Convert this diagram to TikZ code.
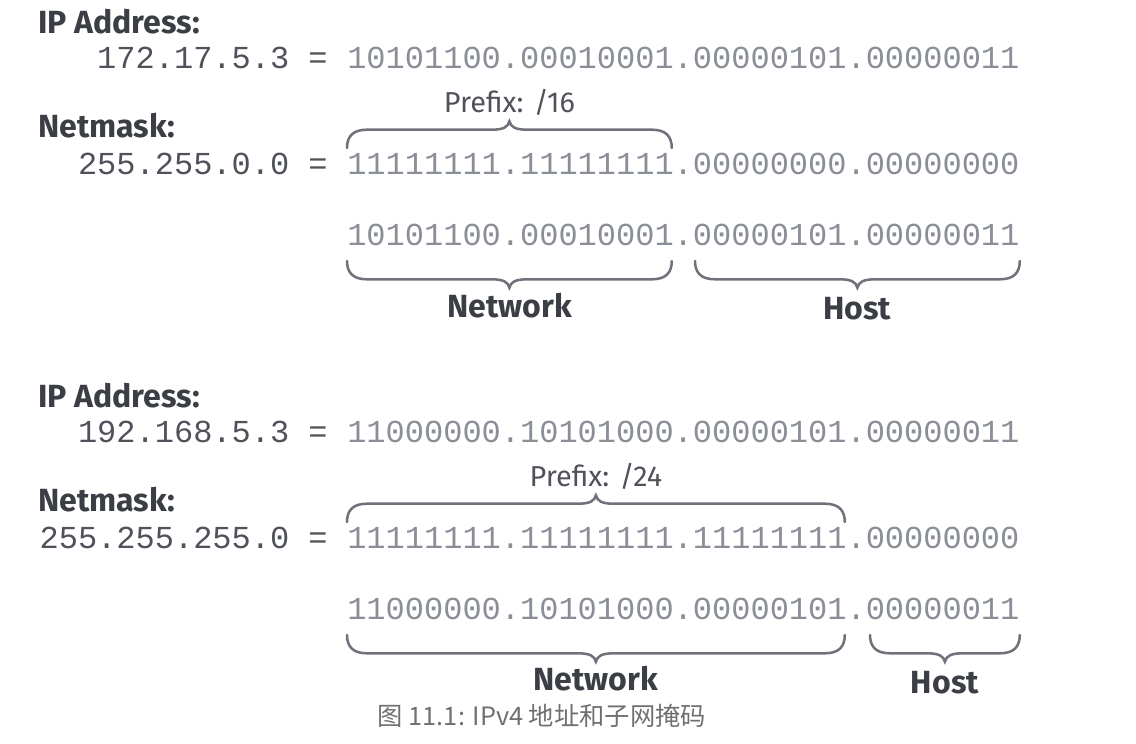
\documentclass[tikz,border=0pt]{standalone}
\usepackage{fontspec}
\setsansfont{Fira Sans}
\setmonofont{Liberation Mono}
\newfontfamily\cjk{Noto Sans CJK SC}
\usetikzlibrary{positioning,calc}
\definecolor{labelgray}{HTML}{3C3E45}
\definecolor{decgray}{HTML}{4F525A}
\definecolor{bitgray}{HTML}{8A8E97}
\definecolor{bracegray}{HTML}{6F727A}
\definecolor{capgray}{HTML}{707070}
\tikzset{
lbl/.style  = {font=\sffamily\bfseries\fontsize{22.8}{26}\selectfont, text=labelgray, anchor=base west, inner sep=0},
part/.style = {lbl, anchor=base},
dec/.style  = {font=\ttfamily\fontsize{22.76}{26}\selectfont, text=decgray, anchor=base east, inner sep=0},
bits/.style = {font=\ttfamily\fontsize{22.76}{26}\selectfont, text=bitgray, anchor=base west, inner sep=0},
pfx/.style  = {font=\sffamily\fontsize{20.5}{24}\selectfont, text=decgray, anchor=base, inner sep=0},
captxt/.style = {font=\cjk\fontsize{18}{22}\selectfont, text=capgray, anchor=base, inner sep=0},
brc/.style  = {draw=bracegray, line width=1.8pt, line cap=round},
curly/.style = {to path={let \p1=(\tikztostart), \p2=(\tikztotarget), \n1={0.5*(\x1+\x2)}, \n2={#1} in
  (\p1) .. controls (\x1,\y1+\n2*8pt) and (\x1+4pt,\y1+\n2*13pt) .. (\x1+14pt,\y1+\n2*13pt)
  -- (\n1-13pt,\y1+\n2*13pt) .. controls (\n1-4pt,\y1+\n2*13pt) and (\n1-1pt,\y1+\n2*15pt) .. (\n1,\y1+\n2*19pt)
  .. controls (\n1+1pt,\y1+\n2*15pt) and (\n1+4pt,\y1+\n2*13pt) .. (\n1+13pt,\y1+\n2*13pt)
  -- (\x2-14pt,\y1+\n2*13pt) .. controls (\x2-4pt,\y1+\n2*13pt) and (\x2,\y1+\n2*8pt) .. (\p2)}}
}

\begin{document}
\begin{tikzpicture}[x=0.025cm, y=-0.025cm]
  \useasboundingbox (0,0) rectangle (1136,743);

  % 172.17.5.3 /16
  \node [lbl]  (ipa)   at (38,33)   {IP Address:};
  \node [dec]  (deca)  at (328,68)  {172.17.5.3 =};
  \node [bits] (bitsa) at (347,68)  {10101100.00010001.00000101.00000011};
  \node [lbl]  (nma)   at (38,137)  {Netmask:};
  \node [dec]  (decma) at (328,174) {255.255.0.0 =};
  \node [bits] (maska) at (347,174) {11111111.11111111.00000000.00000000};
  \node [bits] (neta)  at (347,245) {10101100.00010001.00000101.00000011};

  \coordinate (pfxa1) at ($(maska.base west)+(0,-26)$);
  \coordinate (pfxa2) at ($(maska.base west)!17/35!(maska.base east)+(-2,-26)$);
  \coordinate (nwa1)  at ($(neta.base west)+(0,16)$);
  \coordinate (nwa2)  at ($(neta.base west)!17/35!(neta.base east)+(-2,16)$);
  \coordinate (hsa1)  at ($(neta.base west)!18/35!(neta.base east)+(2,16)$);
  \coordinate (hsa2)  at ($(neta.base east)+(0,16)$);

  \draw [brc] (pfxa1) to[curly=1] (pfxa2);
  \draw [brc] (nwa1) to[curly=-1] (nwa2);
  \draw [brc] (hsa1) to[curly=-1] (hsa2);
  \node [pfx]  (pfxlabela) at ($(pfxa1)!0.5!(pfxa2)+(0,-36)$) {Prefix: /16};
  \node [part] (nwlabela)  at ($(nwa1)!0.5!(nwa2)+(0,56)$)    {Network};
  \node [part] (hslabela)  at ($(hsa1)!0.5!(hsa2)+(0,58)$)    {Host};

  % 192.168.5.3 /24
  \node [lbl]  (ipb)   at (38,407)  {IP Address:};
  \node [dec]  (decb)  at (328,442) {192.168.5.3 =};
  \node [bits] (bitsb) at (347,442) {11000000.10101000.00000101.00000011};
  \node [lbl]  (nmb)   at (38,511)  {Netmask:};
  \node [dec]  (decmb) at (328,548) {255.255.255.0 =};
  \node [bits] (maskb) at (347,548) {11111111.11111111.11111111.00000000};
  \node [bits] (netb)  at (347,619) {11000000.10101000.00000101.00000011};

  \coordinate (pfxb1) at ($(maskb.base west)+(0,-26)$);
  \coordinate (pfxb2) at ($(maskb.base west)!26/35!(maskb.base east)+(-2,-26)$);
  \coordinate (nwb1)  at ($(netb.base west)+(0,16)$);
  \coordinate (nwb2)  at ($(netb.base west)!26/35!(netb.base east)+(-2,16)$);
  \coordinate (hsb1)  at ($(netb.base west)!27/35!(netb.base east)+(4,16)$);
  \coordinate (hsb2)  at ($(netb.base east)+(0,16)$);

  \draw [brc] (pfxb1) to[curly=1] (pfxb2);
  \draw [brc] (nwb1) to[curly=-1] (nwb2);
  \draw [brc] (hsb1) to[curly=-1] (hsb2);
  \node [pfx]  (pfxlabelb) at ($(pfxb1)!0.5!(pfxb2)+(0,-36)$) {Prefix: /24};
  \node [part] (nwlabelb)  at ($(nwb1)!0.5!(nwb2)+(0,55)$)    {Network};
  \node [part] (hslabelb)  at ($(hsb1)!0.5!(hsb2)+(0,58)$)    {Host};

  \node [captxt] (caption) at (542,725) {图 11.1: IPv4 地址和子网掩码};
\end{tikzpicture}
\end{document}
